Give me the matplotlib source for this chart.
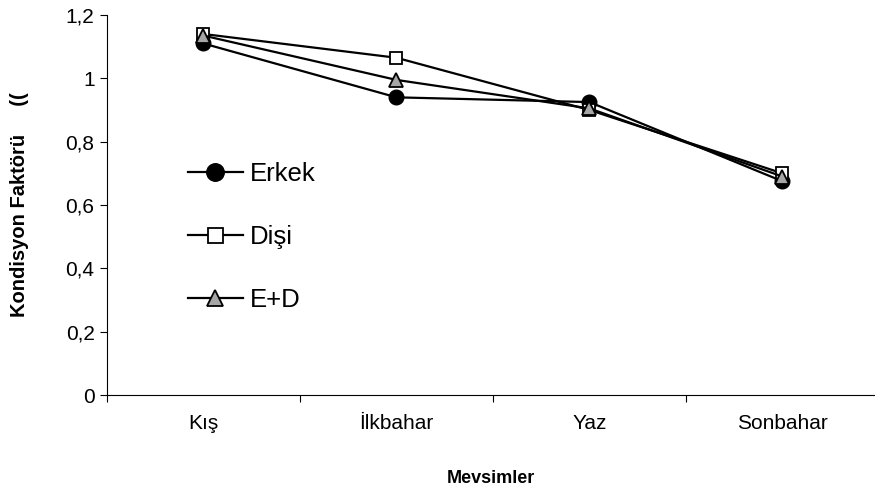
import matplotlib
matplotlib.use('Agg')
import matplotlib.pyplot as plt

plt.rcParams['font.family'] = ['Liberation Sans', 'DejaVu Sans']

seasons = ['Kış', 'İlkbahar', 'Yaz', 'Sonbahar']
erkek = [1.11, 0.94, 0.925, 0.675]
disi = [1.14, 1.065, 0.90, 0.70]
e_d = [1.135, 0.995, 0.905, 0.69]
y_ticks = [0, 0.2, 0.4, 0.6, 0.8, 1.0, 1.2]
y_tick_labels = ['0', '0,2', '0,4', '0,6', '0,8', '1', '1,2']

fig = plt.figure(figsize=(8.75, 4.95), dpi=100)
ax = fig.add_axes([0.1223, 0.202, 0.8777, 0.7677])

x = list(range(1, len(seasons) + 1))
ax.plot(x, erkek, color='black', lw=1.6, marker='o', ms=10.5,
        mfc='black', mec='black', label='Erkek', zorder=3)
ax.plot(x, disi, color='black', lw=1.6, marker='s', ms=9,
        mfc='white', mec='black', mew=1.3, label='Dişi', zorder=3)
ax.plot(x, e_d, color='black', lw=1.6, marker='^', ms=10,
        mfc='#a6a6a6', mec='black', mew=1.3, label='E+D', zorder=4)

ax.set_xlim(0.5, 4.48)
ax.set_ylim(0, 1.2)
ax.set_yticks(y_ticks)
ax.set_yticklabels(y_tick_labels, fontsize=15)

ax.set_xticks([0.5, 1.5, 2.5, 3.5])
ax.set_xticklabels([])
ax.set_xticks(x, minor=True)
ax.set_xticklabels(seasons, minor=True, fontsize=15)
ax.tick_params(axis='x', which='major', length=5, direction='out')
ax.tick_params(axis='x', which='minor', length=0, pad=14)
ax.tick_params(axis='y', length=5, direction='out', pad=4)

for s in ['top', 'right']:
    ax.spines[s].set_visible(False)

ax.set_xlabel('Mevsimler', fontsize=13, fontweight='bold', labelpad=26)
ax.set_ylabel('Kondisyon Faktörü     ((', fontsize=14.5, fontweight='bold',
              labelpad=26)

ax.legend(loc='upper left', bbox_to_anchor=(0.105, 0.612), frameon=False,
          fontsize=18.5, handlelength=2.15, labelspacing=1.5,
          handletextpad=0.27, borderaxespad=0, borderpad=0, markerscale=1.2)

fig.savefig('out.png', dpi=100)
